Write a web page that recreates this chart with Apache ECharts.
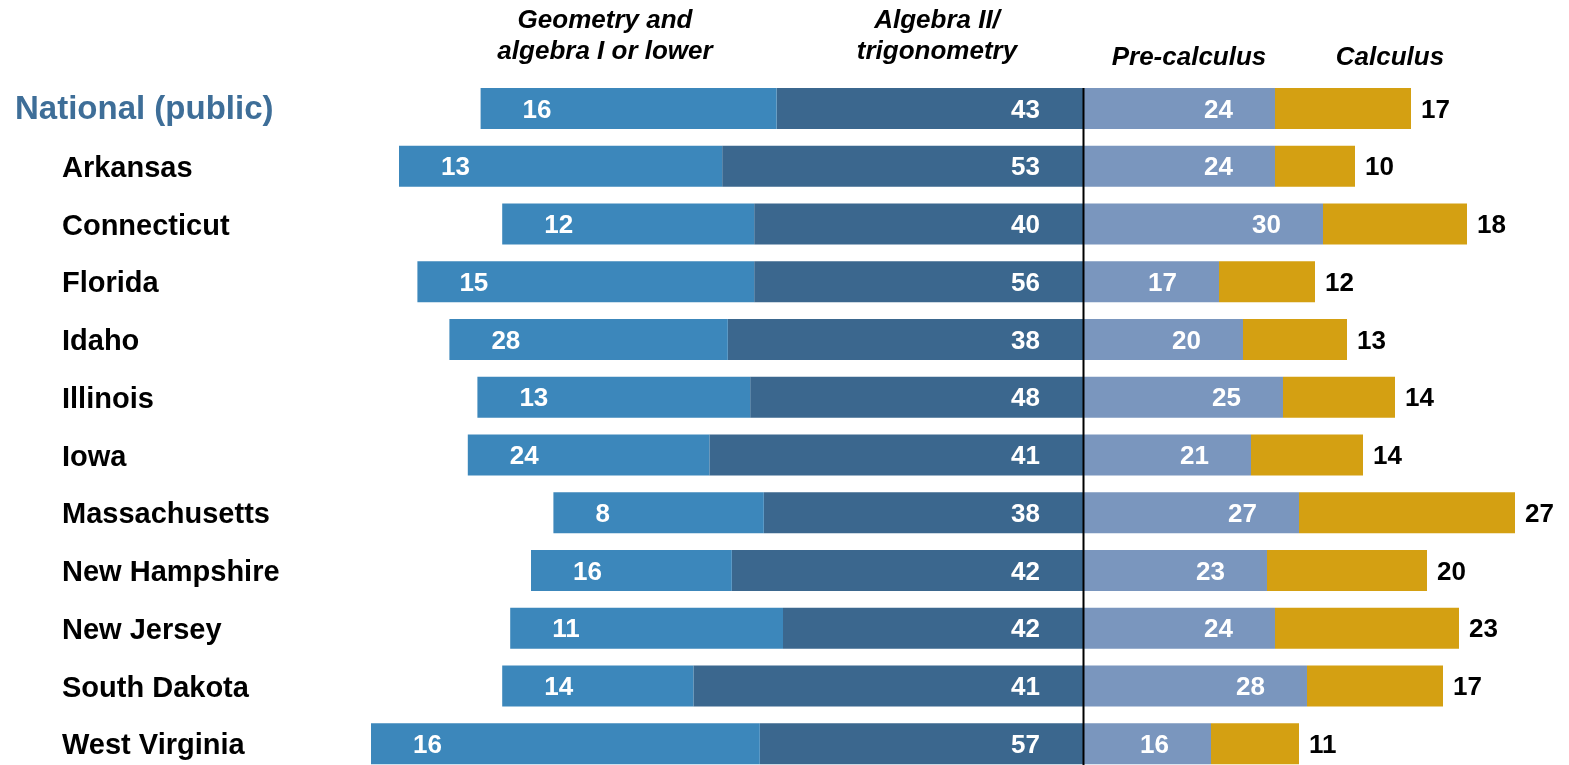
<!DOCTYPE html>
<html><head><meta charset="utf-8">
<script src="https://cdn.jsdelivr.net/npm/echarts@6/dist/echarts.min.js"></script>
<style>html,body{margin:0;padding:0;background:#fff}#c{width:1569px;height:765px}</style>
</head><body><div id="c"></div>
<script>
// ---- data ----
const categories = ['National (public)','Arkansas','Connecticut','Florida','Idaho','Illinois','Iowa','Massachusetts','New Hampshire','New Jersey','South Dakota','West Virginia'];
// numbers printed on the bars
const geomLabel = [16,13,12,15,28,13,24,8,16,11,14,16];
const algLabel  = [43,53,40,56,38,48,41,38,42,42,41,57];
const preLabel  = [24,24,30,17,20,25,21,27,23,24,28,16];
const calcLabel = [17,10,18,12,13,14,14,27,20,23,17,11];
// drawn lengths of the left-hand bars as they appear in the picture (same scale as the right side)
const geomBar = [37.0,40.4,31.5,42.1,34.8,34.1,30.2,26.3,25.1,34.1,23.9,48.6];
const algBar  = [38.3,45.1,41.1,41.1,44.4,41.6,46.7,39.9,43.9,37.5,48.7,40.4];
// column headers
const headers = ['Geometry and\nalgebra I or lower','Algebra II/\ntrigonometry','Pre-calculus','Calculus'];

const FONT = "'Liberation Sans', Arial, sans-serif";
const HFONT = "italic bold 26px 'Liberation Sans', Arial, sans-serif";
const chart = echarts.init(document.getElementById('c'), null, {renderer:'canvas'});
const neg = a => a.map(v => -v);
const white = {color:'#fff', fontSize:26, fontWeight:'bold', fontFamily:FONT, offset:[0,2]};

const option = {
  animation:false,
  backgroundColor:'#fff',
  grid:{left:363, top:108.5, width:1200, height:635.25, containLabel:false},
  xAxis:{type:'value', min:-90, max:60, show:false},
  yAxis:{type:'category', inverse:true, boundaryGap:false, data:categories,
    axisLine:{show:false}, axisTick:{show:false}, splitLine:{show:false},
    axisLabel:{align:'left', margin:348,
      formatter:(v,i)=> i===0 ? '{n|'+v+'}' : '{c|'+v+'}',
      rich:{
        n:{fontSize:33, fontWeight:'bold', color:'#3E6E98', fontFamily:FONT, padding:[3,0,0,0]},
        c:{fontSize:29, fontWeight:'bold', color:'#000', fontFamily:FONT, padding:[5,0,0,47]}
      }}},
  series:[
    {name:headers[1], type:'bar', stack:'all', data:neg(algBar), barWidth:41,
     itemStyle:{color:'#3B678E'},
     label:Object.assign({show:true, position:'insideRight', distance:43, formatter:p=>algLabel[p.dataIndex]}, white)},
    {name:headers[0], type:'bar', stack:'all', data:neg(geomBar), barWidth:41,
     itemStyle:{color:'#3C87BB'},
     label:Object.assign({show:true, position:'insideLeft', distance:42, formatter:p=>geomLabel[p.dataIndex]}, white)},
    {name:headers[2], type:'bar', stack:'all', data:preLabel, barWidth:41,
     itemStyle:{color:'#7A96BE'},
     label:Object.assign({show:true, position:'insideRight', distance:42, formatter:p=>preLabel[p.dataIndex]}, white)},
    {name:headers[3], type:'bar', stack:'all', data:calcLabel, barWidth:41,
     itemStyle:{color:'#D4A012'},
     label:{show:true, position:'right', distance:10, color:'#000', fontSize:26, fontWeight:'bold', fontFamily:FONT, offset:[0,2],
       formatter:p=>calcLabel[p.dataIndex]}}
  ],
  graphic:[
    {type:'text', x:605, y:36, style:{text:headers[0], textAlign:'center', textVerticalAlign:'middle', lineHeight:31, fill:'#000', font:HFONT}},
    {type:'text', x:937, y:36, style:{text:headers[1], textAlign:'center', textVerticalAlign:'middle', lineHeight:31, fill:'#000', font:HFONT}},
    {type:'text', x:1189, y:58, style:{text:headers[2], textAlign:'center', textVerticalAlign:'middle', fill:'#000', font:HFONT}},
    {type:'text', x:1390, y:58, style:{text:headers[3], textAlign:'center', textVerticalAlign:'middle', fill:'#000', font:HFONT}}
  ]
};
chart.setOption(option);
// zero line, placed through the x scale, from the top of the first bar to the bottom edge
const x0 = Math.round(chart.convertToPixel({xAxisIndex:0}, 0)) + 0.5;
const yTop = chart.convertToPixel({yAxisIndex:0}, categories[0]) - 20.5;
chart.setOption({graphic:[{type:'line', id:'zero', silent:true, z:10,
  shape:{x1:x0, y1:yTop, x2:x0, y2:765}, style:{stroke:'#000', lineWidth:2}}]});
</script></body></html>
